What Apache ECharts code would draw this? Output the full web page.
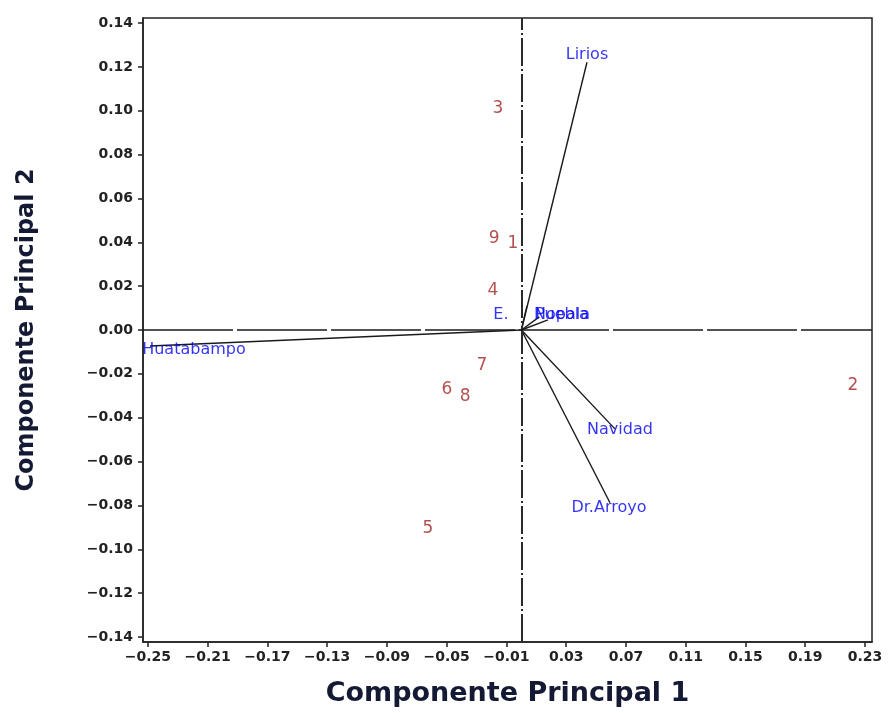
<!DOCTYPE html>
<html>
<head>
<meta charset="utf-8">
<style>
html,body{margin:0;padding:0;background:#fff;}
#chart{width:890px;height:713px;}
</style>
<script src="https://cdn.jsdelivr.net/npm/echarts@6/dist/echarts.min.js"></script>
</head>
<body>
<div id="chart"></div>
<script>
// Observations (scores)
var pointNames = ['1','2','3','4','5','6','7','8','9'];
var pointX = [-0.0056, 0.222, -0.0157, -0.019, -0.0625, -0.0498, -0.0265, -0.0377, -0.0183];
var pointY = [0.0392, -0.0255, 0.1011, 0.0178, -0.0907, -0.0273, -0.0164, -0.0305, 0.0415];

// Variables (loadings) vector ends
var vectorNames = ['Lirios','Navidad','Dr.Arroyo','Huatabampo','E.','Nopala','Puebla'];
var vectorX = [0.0439, 0.0626, 0.0593, -0.2486, 0.0037, 0.0178, 0.012];
var vectorY = [0.1221, -0.0451, -0.0788, -0.0073, 0.0109, 0.0046, 0.006];

// Label anchor positions of the variable names
var labelX = [0.0439, 0.066, 0.0586, -0.2192, -0.0137, 0.0272, 0.0272];
var labelY = [0.1253, -0.0456, -0.0811, -0.0091, 0.0068, 0.0068, 0.0068];

// Tick labels
var xTicks = [-0.25,-0.21,-0.17,-0.13,-0.09,-0.05,-0.01,0.03,0.07,0.11,0.15,0.19,0.23];
var yTicks = [-0.14,-0.12,-0.10,-0.08,-0.06,-0.04,-0.02,0.00,0.02,0.04,0.06,0.08,0.10,0.12,0.14];

var fmt = function (v) { var s = (+v).toFixed(2); if (s === '-0.00') s = '0.00'; return s.replace('-', '\u2212'); };

var series = [];
for (var i = 0; i < vectorNames.length; i++) {
  series.push({
    type: 'line', name: vectorNames[i], silent: true, symbol: 'none',
    data: [[0, 0], [vectorX[i], vectorY[i]]],
    lineStyle: { color: '#1a1a1a', width: 1.4 }, z: 3
  });
}
series.push({
  type: 'scatter', name: 'ref', symbolSize: 0, data: [],
  markLine: {
    silent: true, symbol: 'none', label: { show: false },
    data: [
      { xAxis: 0, lineStyle: { color: '#2a2a2a', width: 2, type: [28, 3, 2, 3] } },
      { yAxis: 0, lineStyle: { color: '#1a1a1a', width: 1.6, type: [90, 4] } }
    ]
  }, z: 2
});
series.push({
  type: 'scatter', name: 'obs', symbolSize: 0,
  data: pointNames.map(function (n, i) { return { name: n, value: [pointX[i], pointY[i]] }; }),
  label: { show: true, position: 'inside', formatter: '{b}', color: '#a02424', fontSize: 17, fontFamily: 'DejaVu Sans' },
  z: 5
});
series.push({
  type: 'scatter', name: 'vars', symbolSize: 0,
  data: vectorNames.map(function (n, i) { return { name: n, value: [labelX[i], labelY[i]] }; }),
  label: { show: true, position: 'inside', formatter: '{b}', color: '#0000f0', fontSize: 16, fontFamily: 'DejaVu Sans' },
  z: 6
});

var chart = echarts.init(document.getElementById('chart'), null, { renderer: 'canvas' });
chart.setOption({
  animation: false,
  backgroundColor: '#ffffff',
  grid: { left: 143, right: 18, top: 18, bottom: 71, show: true, borderColor: '#222', borderWidth: 1.5, containLabel: false, outerBoundsMode: 'none' },
  xAxis: {
    type: 'value', min: -0.2533, max: 0.2347,
    name: 'Componente Principal 1', nameLocation: 'middle', nameGap: 38,
    nameTextStyle: { fontSize: 27, fontWeight: 'bold', fontFamily: 'DejaVu Sans', color: '#141a33' },
    axisLine: { show: true, onZero: false, lineStyle: { color: '#222', width: 1.5 } },
    axisTick: { show: true, length: 5, customValues: xTicks, lineStyle: { color: '#222', width: 1.5 } },
    axisLabel: { customValues: xTicks, formatter: fmt, margin: 8, fontSize: 14, fontWeight: 'bold', fontFamily: 'DejaVu Sans', color: '#222' },
    splitLine: { show: false }
  },
  yAxis: {
    type: 'value', min: -0.1423, max: 0.1423,
    name: 'Componente Principal 2', nameLocation: 'middle', nameGap: 104,
    nameTextStyle: { fontSize: 24, fontWeight: 'bold', fontFamily: 'DejaVu Sans', color: '#141a33' },
    axisLine: { show: true, onZero: false, lineStyle: { color: '#222', width: 1.5 } },
    axisTick: { show: true, length: 5, customValues: yTicks, lineStyle: { color: '#222', width: 1.5 } },
    axisLabel: { customValues: yTicks, formatter: fmt, margin: 10, fontSize: 14, fontWeight: 'bold', fontFamily: 'DejaVu Sans', color: '#222' },
    splitLine: { show: false }
  },
  series: series
});
</script>
</body>
</html>
